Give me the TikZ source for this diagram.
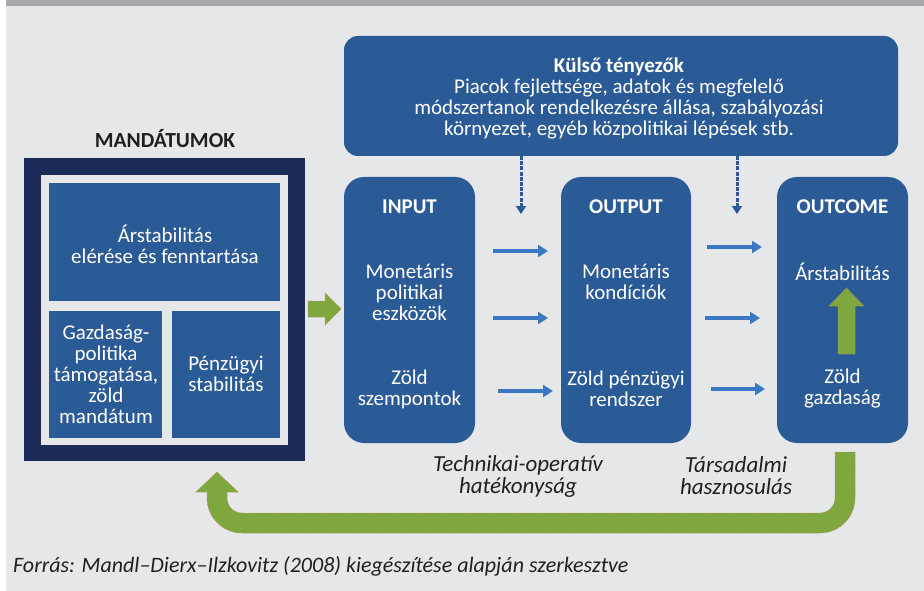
\documentclass[tikz,border=0pt]{standalone}
\usepackage{fontspec}
\setmainfont{Carlito}
\usetikzlibrary{arrows.meta}
\definecolor{boxblue}{RGB}{43,91,150}
\definecolor{navy}{RGB}{28,43,87}
\definecolor{bggray}{RGB}{230,231,233}
\definecolor{topbar}{RGB}{167,169,172}
\definecolor{arrblue}{RGB}{59,120,195}
\definecolor{grn}{RGB}{126,168,61}
\definecolor{grnedge}{RGB}{176,140,90}
\definecolor{darktxt}{RGB}{35,31,32}
\tikzset{
  bluebox/.style={fill=boxblue, draw=none, inner sep=0pt},
  roundbox/.style={bluebox, rounded corners=20pt},
  txt/.style={text=white, align=center, inner sep=0pt, font=\fontsize{21}{21}\selectfont},
  ttl/.style={text=white, align=center, inner sep=0pt, font=\fontsize{21}{21}\selectfont\bfseries},
  itl/.style={text=darktxt, align=center, inner sep=0pt, font=\fontsize{23}{22}\selectfont\itshape},
  barrow/.style={draw=arrblue, line width=3.4pt, -{Triangle[length=10pt,width=12pt]}},
  darrow/.style={draw=boxblue, line width=3pt, dash pattern=on 4pt off 1.2pt, -{Triangle[length=8pt,width=10pt]}},
  garrow/.style={fill=grn, draw=grnedge, line width=0.5pt, dash pattern=on 2pt off 1pt}
}
\begin{document}
\begin{tikzpicture}[x=1pt,y=-1pt]
\useasboundingbox (0,0) rectangle (924,591);
\fill[white] (0,0) rectangle (924,591);
\fill[bggray] (6,6) rectangle (924,591);
\fill[topbar] (6,0) rectangle (924,6);

% MANDATUMOK
\node[text=darktxt, inner sep=0pt, font=\fontsize{21.5}{21}\selectfont\bfseries] (mtitle) at (165,139) {MANDÁTUMOK};
\node[fill=navy, inner sep=0pt, minimum width=281pt, minimum height=303pt] (frame) at (164.5,309.5) {};
\node[fill=bggray, inner sep=0pt, minimum width=247pt, minimum height=270pt] (inner) at (164.5,310) {};
\node[bluebox, minimum width=231pt, minimum height=118pt] (topbox) at (164.5,242) {};
\node[bluebox, minimum width=113pt, minimum height=127pt] (glbox) at (105.5,374.5) {};
\node[bluebox, minimum width=108pt, minimum height=127pt] (grbox) at (226,374.5) {};
\node[txt] (t1) at (165,244) {Árstabilitás\\elérése és fenntartása};
\node[txt] (t2) at (106,374) {Gazdaság-\\politika\\támogatása,\\zöld\\mandátum};
\node[txt] (t3) at (226,374) {Pénzügyi\\stabilitás};

% external factors
\node[bluebox, rounded corners=14pt, minimum width=554pt, minimum height=120pt] (ext) at (621,96) {};
\node[txt] (extt) at (619,98) {\textbf{Külső tényezők}\\Piacok fejlettsége, adatok és megfelelő\\módszertanok rendelkezésre állása, szabályozási\\környezet, egyéb közpolitikai lépések stb.};

% three columns
\node[roundbox, minimum width=131pt, minimum height=266pt] (inbox) at (409.5,310) {};
\node[roundbox, minimum width=130pt, minimum height=266pt] (outbox) at (626,310) {};
\node[roundbox, minimum width=131pt, minimum height=266pt] (ocbox) at (842.5,310) {};

\node[ttl] (inttl) at (409.5,207) {INPUT};
\node[ttl] (outttl) at (626,207) {OUTPUT};
\node[ttl] (octtl) at (842.5,207) {OUTCOME};
\node[txt] (in1) at (409.5,292) {Monetáris\\politikai\\eszközök};
\node[txt] (in2) at (409.5,389) {Zöld\\szempontok};
\node[txt] (out1) at (626,282) {Monetáris\\kondíciók};
\node[txt] (out2) at (626,389) {Zöld pénzügyi\\rendszer};
\node[txt] (oc1) at (842.5,272) {Árstabilitás};
\node[txt] (oc2) at (842.5,389) {Zöld\\gazdaság};

\node[itl] (lab1) at (518,476) {Technikai-operatív\\hatékonyság};
\node[itl] (lab2) at (736,476) {Társadalmi\\hasznosulás};

\node[text=darktxt, anchor=west, inner sep=0pt, font=\fontsize{22}{21}\selectfont\itshape] (src) at (13,566) {Forrás: Mandl–Dierx–Ilzkovitz (2008) kiegészítése alapján szerkesztve};

% dashed arrows from external factors
\coordinate (d1a) at (521,156); \coordinate (d1b) at (521,214);
\coordinate (d2a) at (737,156); \coordinate (d2b) at (737,214);
\draw[darrow] (d1a) -- (d1b);
\draw[darrow] (d2a) -- (d2b);

% blue arrows
\coordinate (a1s) at (493,251); \coordinate (a1e) at (548,251);
\coordinate (a2s) at (493,318); \coordinate (a2e) at (548,318);
\coordinate (a3s) at (498,391); \coordinate (a3e) at (553,391);
\coordinate (b1s) at (707,247); \coordinate (b1e) at (762,247);
\coordinate (b2s) at (705,318); \coordinate (b2e) at (760,318);
\coordinate (b3s) at (711,389); \coordinate (b3e) at (765,389);
\draw[barrow] (a1s) -- (a1e);
\draw[barrow] (a2s) -- (a2e);
\draw[barrow] (a3s) -- (a3e);
\draw[barrow] (b1s) -- (b1e);
\draw[barrow] (b2s) -- (b2e);
\draw[barrow] (b3s) -- (b3e);

% green arrow mandates -> input
\path[garrow] (308,301) -- (325,301) -- (325,293) -- (341,309) -- (325,325) -- (325,317) -- (308,317) -- cycle;

% green up arrow inside outcome
\path[garrow] (838,354) -- (838,306) -- (829,306) -- (846.5,288) -- (864,306) -- (855,306) -- (855,354) -- cycle;

% green feedback arrow
\path[garrow] (855,452) -- (855,498) .. controls (855,517.3) and (839.3,533) .. (820,533)
  -- (242,533) .. controls (222.7,533) and (207,517.3) .. (207,498)
  -- (207,492) -- (196,492) -- (217,472) -- (238,492) -- (227,492) -- (227,498)
  .. controls (227,506.3) and (233.7,513) .. (242,513)
  -- (820,513) .. controls (828.3,513) and (835,506.3) .. (835,498)
  -- (835,452) -- cycle;
\end{tikzpicture}
\end{document}
